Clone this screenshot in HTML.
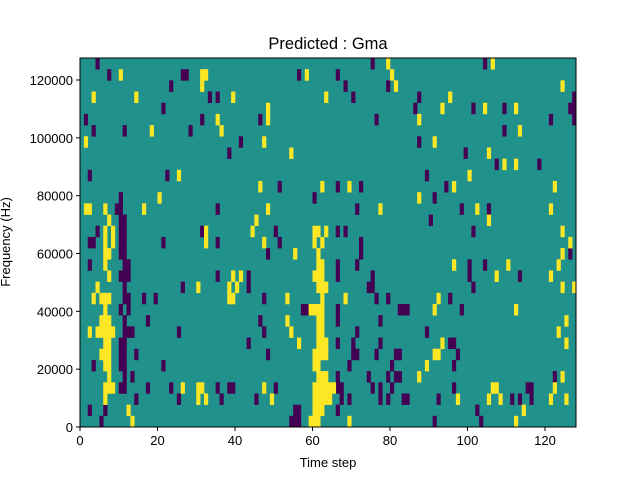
<!DOCTYPE html>
<html><head><meta charset="utf-8"><style>
html,body{margin:0;padding:0;background:#fff;}
svg{display:block;font-family:"Liberation Sans","DejaVu Sans",sans-serif;}
</style></head><body>
<svg id="chart" width="640" height="480" viewBox="0 0 640 480">
<rect x="0" y="0" width="640" height="480" fill="#fff"/>
<text x="328" y="49" font-size="16.5" text-anchor="middle" fill="#000">Predicted : Gma</text>
<g id="plot"></g>
<g id="axes"></g>
<text x="328" y="467" font-size="13" text-anchor="middle" fill="#000">Time step</text>
<text x="0" y="0" font-size="13" text-anchor="middle" fill="#000" transform="translate(10,242) rotate(-90)">Frequency (Hz)</text>
</svg>
<script>
// ---- data ----
const nSteps = 128;
const nBins = 33;
const binSize = 3867;
const xTicks = [0, 20, 40, 60, 80, 100, 120];
const yTicks = [0, 20000, 40000, 60000, 80000, 100000, 120000];
// rows listed from highest frequency bin (top) to lowest (bottom); time-step indices
const darkRows = [
"4 75 104","7 26-27 56 66","23 68 79","33 35 70 87 127","21 86 101 109 126-127",
"1 31 46 76 121 127","3 11 28 109","41 87","38 99","107 118","2 22 89","51 66 72 94",
"10 60 91","9-10 35 71 98 105","10-11 90","4 10-11 31 50 66 68 101",
"2-3 10-11 21 35 51 72","10-11 48 72 126","2 11-12 66 71 100 104",
"10-12 35 43 66 75 100 113","11 26 43 74 75 101","11-12 16 19 47 76 79 95",
"10 12 57-58 66 82-84 98","11 17 46 66 77","11-13 25 47 71 89",
"10-11 43 66 70 77 95-96","10-11 14 48 70-71 76 81-82 97","3 10-11 21 69 80 96",
"11 13 66 74 79 81-82 122","10-11 17 23 35 38-39 50 66-67 75 77 80 96 115-116",
"14 25 36 45 67 69 77 79 83-84 92 111 113 116","2 6 55-56 66 102","5 54-56 91 103"
];
const brightRows = [
"79 106","10 31-32 58 80","31 81 124","3 14 39 63 95","48 93 104 112",
"35 48 87","18 36 113","1 47 91","54 105","109 112","25 100","46 62 69 96 122",
"20 87","1-2 6 16 48 77 102 121","7 45 105","6 8 32 44 60-61 63 124",
"6 8 32 47 60 62 126","6-7 55 61 124","6 61-62 96 110 123",
"7 39 41 60-62 107 121","4 30 38 40 61-63 124 127","3 5-7 38-39 53 62 68 92",
"6 59-62 91 112","5-7 53 61-62 125","2 4-8 54 61-62 123",
"6-7 56 61-63 93 125","5-7 60-63 91-92","6-7 60-61 89",
"7 61-63 87 124","6-8 26 30-31 47 60-65 106-107 122",
"6 30 32 49 60-64 97 105 108 121 125","12 60-62 114","13 59-61 69 112"
];
// ---- scales ----
const L = 80, R = 576, T = 58, B = 427;
const yMax = nBins * binSize;
const xs = t => L + (t / nSteps) * (R - L);
const ys = f => B - (f / yMax) * (B - T);
const NS = "http://www.w3.org/2000/svg";
const plot = document.getElementById('plot');
const axes = document.getElementById('axes');
function mk(tag, attrs, parent) {
  const e = document.createElementNS(NS, tag);
  for (const k in attrs) e.setAttribute(k, attrs[k]);
  parent.appendChild(e);
  return e;
}
const bg = mk('rect', {x: L, y: T, width: R - L, height: B - T, fill: '#21918c'}, plot);


function expand(s) {
  const out = [];
  s.split(/\s+/).filter(Boolean).forEach(p => {
    const [a, b] = p.split('-').map(Number);
    for (let i = a; i <= (b === undefined ? a : b); i++) out.push(i);
  });
  return out;
}
function drawCells(rows, color, name) {
  rows.forEach((s, i) => {
    const bin = nBins - 1 - i;
    const y0 = ys((bin + 1) * binSize), y1 = ys(bin * binSize);
    expand(s).forEach(t => {
      const c = mk('rect', {x: xs(t), y: y0, width: xs(t + 1) - xs(t) + 0.3, height: y1 - y0 + 0.3, fill: color}, plot);
      
      
    });
  });
}
drawCells(darkRows, '#440154', 'heatmap-cell-low');
drawCells(brightRows, '#fde725', 'heatmap-cell-high');
// frame
const fr = mk('rect', {x: L, y: T, width: R - L, height: B - T, fill: 'none', stroke: '#000', 'stroke-width': 1}, axes);


xTicks.forEach(v => {
  const x = xs(v);
  const tk = mk('line', {x1: x, x2: x, y1: B, y2: B + 4, stroke: '#000'}, axes);
  
  
  const tx = mk('text', {x: x, y: B + 18, 'font-size': 13, 'text-anchor': 'middle'}, axes);
  tx.textContent = v;
  
  
});
yTicks.forEach(v => {
  const y = ys(v);
  const tk = mk('line', {x1: L - 4, x2: L, y1: y, y2: y, stroke: '#000'}, axes);
  
  
  const tx = mk('text', {x: L - 7, y: y + 5, 'font-size': 13, 'text-anchor': 'end'}, axes);
  tx.textContent = v;
  
  
});
</script>
</body></html>
